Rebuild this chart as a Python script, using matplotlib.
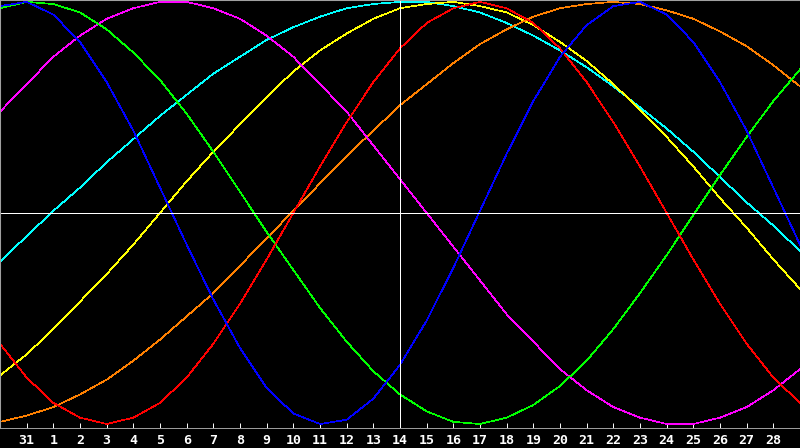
import matplotlib
matplotlib.use("Agg")
import matplotlib.pyplot as plt

# one sample per day, from the 30th of last month to the 29th
days = ["30", "31"] + [str(d) for d in range(1, 30)]

# percent values
physical = [98, 100, 94, 81, 62, 39, 12, -15, -41, -64, -83, -95, -100, -98, -88, -72,
            -51, -26, 1, 28, 53, 74, 89, 98, 100, 94, 81, 62, 39, 12, -15]
emotional = [-62, -78, -90, -97, -100, -97, -90, -78, -62, -43, -22, 0, 22, 43, 62, 78,
             90, 97, 100, 97, 90, 78, 62, 43, 22, 0, -22, -43, -62, -78, -90]
intellectual = [97, 100, 99, 95, 87, 76, 63, 47, 29, 10, -9, -27, -45, -61, -75, -86,
                -94, -99, -100, -97, -91, -82, -70, -55, -38, -20, -1, 18, 36, 53, 68]
intuitive = [48, 61, 74, 84, 92, 97, 100, 100, 97, 92, 84, 74, 61, 48, 32, 16,
             0, -16, -32, -48, -61, -74, -84, -92, -97, -100, -100, -97, -92, -84, -74]
aesthetic = [-77, -67, -55, -42, -29, -15, 0, 15, 29, 42, 55, 67, 77, 85, 92, 97,
             99, 100, 98, 95, 89, 81, 72, 61, 49, 36, 22, 7, -7, -22, -36]
awareness = [-99, -96, -92, -86, -79, -70, -60, -49, -38, -25, -12, 1, 14, 27, 39, 51,
             61, 71, 80, 87, 93, 97, 99, 100, 99, 96, 92, 86, 79, 70, 60]
spiritual = [-23, -11, 1, 12, 24, 35, 46, 56, 66, 74, 82, 88, 93, 97, 99, 100,
             100, 98, 95, 90, 84, 77, 69, 60, 50, 40, 29, 17, 5, -6, -18]

series = [
    (spiritual, "#00ffff"),
    (aesthetic, "#ffff00"),
    (awareness, "#ff8000"),
    (intuitive, "#ff00ff"),
    (intellectual, "#00ff00"),
    (emotional, "#ff0000"),
    (physical, "#0000ff"),
]

x = list(range(len(days)))
today = days.index("14")

fig = plt.figure(figsize=(8, 4.48), dpi=100, facecolor="black")
ax = fig.add_axes([0, 20 / 448, 1, 428 / 448])
ax.set_facecolor("black")

for values, color in series:
    ax.plot(x, values, color=color, lw=0.5, antialiased=False)

ax.axhline(0, color="white", lw=0.6, antialiased=False)
ax.axvline(today, color="white", lw=0.6, antialiased=False)

ax.set_xlim(0, len(days) - 1)
ax.set_ylim(-101.9, 100.9)

ax.set_xticks(x[1:-1])
ax.set_xticklabels(days[1:-1], color="white", fontsize=9.5, fontweight="bold",
                   family="DejaVu Sans Mono")
ax.tick_params(axis="x", direction="in", length=3.6, width=0.7, color="white", pad=4)
ax.set_yticks([])

for side in ["left", "top"]:
    ax.spines[side].set_color("#a0a0a0")
    ax.spines[side].set_linewidth(1.5)
ax.spines["bottom"].set_color("#a0a0a0")
ax.spines["bottom"].set_linewidth(0.7)
ax.spines["right"].set_visible(False)

fig.savefig("out.png", dpi=100, facecolor="black")
